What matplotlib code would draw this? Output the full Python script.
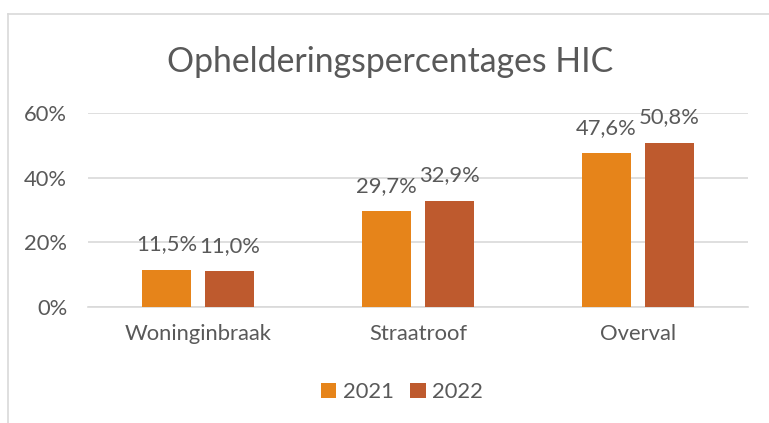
import numpy as np
import matplotlib.pyplot as plt
from matplotlib.lines import Line2D

categories = ['Woninginbraak', 'Straatroof', 'Overval']
years      = ['2021', '2022']
vals_2021  = [11.5, 29.7, 47.6]
vals_2022  = [11.0, 32.9, 50.8]
y_ticks    = [0, 20, 40, 60]

c_2021 = '#E6841A'
c_2022 = '#BE5A2E'
txt    = '#595959'
grid_c = '#D9D9D9'
fs     = 15.8

plt.rcParams['font.family'] = ['Lato', 'DejaVu Sans']

fig = plt.figure(figsize=(7.69, 4.23), dpi=100)
ax = fig.add_axes([0.1144, 0.2742, 0.8583, 0.4587])

x = np.arange(len(categories))
w = 0.223
off = 0.143
b1 = ax.bar(x - off, vals_2021, w, color=c_2021, label=years[0], zorder=3)
b2 = ax.bar(x + off, vals_2022, w, color=c_2022, label=years[1], zorder=3)

for bars, vals in ((b1, vals_2021), (b2, vals_2022)):
    for b, v in zip(bars, vals):
        ax.annotate(f'{v:.1f}%'.replace('.', ','),
                    (b.get_x() + b.get_width() / 2, v),
                    xytext=(0, 11), textcoords='offset points',
                    ha='center', va='bottom', fontsize=fs, color=txt,
                    annotation_clip=False)

ax.set_xlim(-0.5, 2.5)
ax.set_ylim(0, 60)
ax.set_yticks(y_ticks)
ax.set_yticklabels([f'{t}%' for t in y_ticks])
ax.set_xticks(x)
ax.set_xticklabels(categories)
ax.tick_params(axis='y', length=0, pad=15, labelsize=fs, labelcolor=txt)
ax.tick_params(axis='x', length=0, pad=12, labelsize=fs, labelcolor=txt)
ax.yaxis.grid(True, color=grid_c, linewidth=1.2, zorder=0)
for s in ['left', 'right', 'top']:
    ax.spines[s].set_visible(False)
ax.spines['bottom'].set_color(grid_c)
ax.spines['bottom'].set_linewidth(1.2)

fig.text(0.507, 0.853, 'Ophelderingspercentages HIC', ha='center', va='center',
         fontsize=24.3, color=txt)

ax.legend(loc='center', bbox_to_anchor=((402 / 769 - 0.1144) / 0.8583, (31 / 423 - 0.2742) / 0.4587),
          ncol=2, frameon=False, fontsize=fs, labelcolor=txt,
          handlelength=0.7, handleheight=0.7, handletextpad=0.3, columnspacing=0.75)

# chart frame (left and top border)
fig.add_artist(Line2D([7.5 / 769, 7.5 / 769], [0, 1 - 14 / 423], color=grid_c, linewidth=1.2))
fig.add_artist(Line2D([7.5 / 769, 1], [1 - 14 / 423, 1 - 14 / 423], color=grid_c, linewidth=1.2))

fig.savefig('out.png', dpi=100)
